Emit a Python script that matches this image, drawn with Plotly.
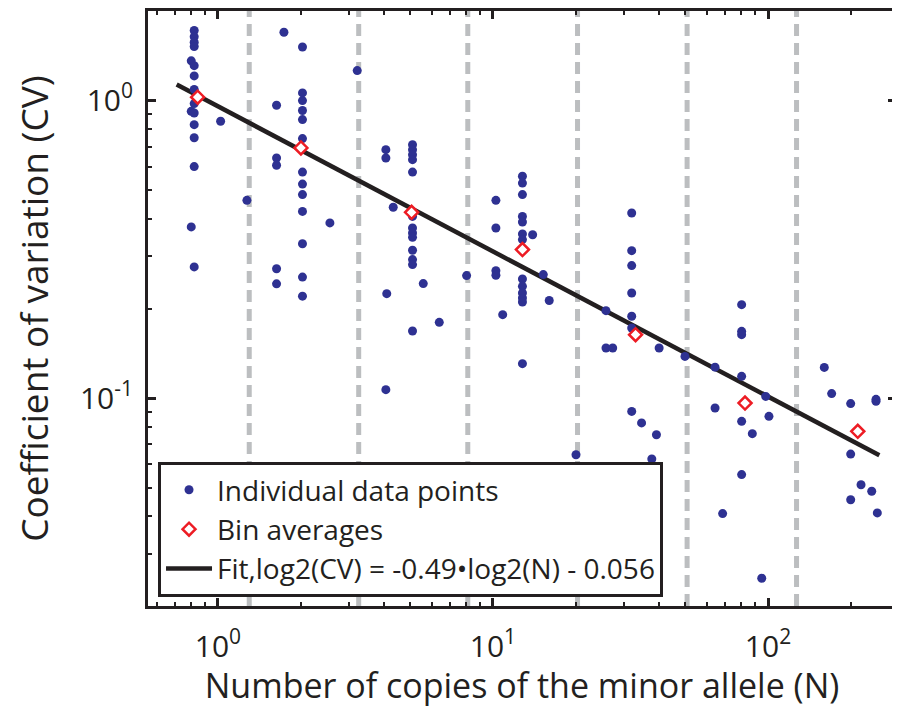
import math
import plotly.graph_objects as go

# ---------------- data ----------------
# individual data points (N, CV)
pts_N = [
    0.82, 0.82, 0.82, 0.82, 0.80, 0.82, 0.82, 0.82, 0.82, 0.80, 0.82, 0.82, 0.82, 0.82, 0.80, 0.82,
    1.023, 1.275,
    2.03, 2.03, 2.03, 2.03, 2.03, 2.03, 2.03, 2.03, 2.03, 2.03, 2.03, 2.03, 2.03,
    1.738, 1.634, 1.634, 1.634, 1.634, 1.634, 2.554, 3.21,
    5.1, 5.1, 5.1, 5.1, 5.1, 5.1, 5.1, 5.1, 5.1, 5.1, 5.1, 5.1, 5.1,
    4.08, 4.08, 4.34, 5.58, 4.11, 6.38, 4.08, 8.02, 10.25, 10.25, 10.25, 10.25, 10.85,
    12.8, 12.8, 12.8, 12.8, 12.8, 12.8, 12.8, 12.8, 12.8, 12.8, 12.8, 12.8, 12.8,
    13.94, 15.24, 16.02, 20.04, 25.76, 25.76, 27.25, 25.76,
    31.95, 31.95, 31.95, 31.95, 31.95, 31.95, 31.95,
    34.7, 39.3, 37.8, 40.2, 49.9, 64.2, 64.2, 68.4,
    80.2, 80.2, 80.2, 80.2, 80.2, 80.2,
    87.7, 98.1, 100.8, 94.9,
    160.2, 170.4, 199.8, 247.0, 247.0, 199.8, 217.9, 238.3, 199.8, 249.7,
]
pts_CV = [
    1.72, 1.64, 1.57, 1.52, 1.36, 1.31, 1.21, 1.09, 0.977, 0.92, 0.908, 0.83, 0.75, 0.60, 0.376, 0.276,
    0.852, 0.462,
    1.514, 1.061, 1.000, 0.926, 0.863, 0.745, 0.575, 0.524, 0.483, 0.424, 0.330, 0.255, 0.220,
    1.697, 0.964, 0.641, 0.606, 0.272, 0.242, 0.388, 1.261,
    0.711, 0.684, 0.658, 0.633, 0.575, 0.408, 0.373, 0.359, 0.347, 0.314, 0.292, 0.281, 0.168,
    0.684, 0.641, 0.438, 0.2425, 0.2244, 0.1797, 0.1067, 0.258, 0.462, 0.373, 0.268, 0.2586, 0.1907,
    0.5565, 0.528, 0.483, 0.408, 0.3906, 0.356, 0.341, 0.2513, 0.2374, 0.2255, 0.217, 0.2103, 0.1305,
    0.354, 0.26, 0.2127, 0.0645, 0.1967, 0.1473, 0.1473, 0.0579,
    0.419, 0.313, 0.2788, 0.2255, 0.1883, 0.172, 0.0902,
    0.0825, 0.0753, 0.0624, 0.1473, 0.138, 0.127, 0.0926, 0.0409,
    0.206, 0.1676, 0.1633, 0.1183, 0.0835, 0.0553,
    0.0759, 0.1013, 0.0868, 0.0248,
    0.1268, 0.1035, 0.0958, 0.0975, 0.0990, 0.0648, 0.0511, 0.0486, 0.0455, 0.0411,
]

# bin averages
bin_N = [0.844, 2.004, 5.06, 12.8, 33.0, 82.5, 212.0]
bin_CV = [1.026, 0.693, 0.421, 0.3155, 0.1633, 0.0962, 0.0773]

# fit line end points: log2(CV) = -0.49*log2(N) - 0.056
fit_N = [0.708, 254.0]
fit_CV = [1.132, 0.0642]

# bin edges (vertical dashed lines)
bin_edges = [1.3, 3.25, 8.1, 20.3, 50.8, 127.0]

# axis ranges and ticks
x_range = [0.557, 292.0]
y_range = [0.02, 2.0]
x_tickvals = [1, 10, 100]
x_ticktext = ["10<sup>0</sup>", "10<sup>1</sup>", "10<sup>2</sup>"]
y_tickvals = [0.1, 1]
y_ticktext = ["10<sup>-1</sup>", "10<sup>0</sup>"]
x_minor = [0.6, 0.7, 0.8, 0.9, 2, 3, 4, 5, 6, 7, 8, 9, 20, 30, 40, 50, 60, 70, 80, 90, 200]
y_minor = [0.03, 0.04, 0.05, 0.06, 0.07, 0.08, 0.09, 0.2, 0.3, 0.4, 0.5, 0.6, 0.7, 0.8, 0.9, 2]

# ---------------- styles ----------------
BLUE = "#2E3192"
RED = "#ED1C24"
GRAY = "#BCBEC0"
INK = "#231F20"
FONT = "Open Sans"

fig = go.Figure()

# dashed bin-edge lines
vx, vy = [], []
for e in bin_edges:
    vx += [e, e, None]
    vy += [y_range[0], y_range[1], None]
fig.add_trace(go.Scatter(x=vx, y=vy, mode="lines", showlegend=False, hoverinfo="skip",
                         line=dict(color=GRAY, width=5, dash="12px,7px")))

fig.add_trace(go.Scatter(x=fit_N, y=fit_CV, mode="lines", name="Fit,log2(CV) = -0.49•log2(N) - 0.056",
                         line=dict(color=INK, width=4.5), legendrank=3))
fig.add_trace(go.Scatter(x=pts_N, y=pts_CV, mode="markers", name="Individual data points",
                         marker=dict(color=BLUE, size=9, line=dict(width=0)), legendrank=1))
fig.add_trace(go.Scatter(x=bin_N, y=bin_CV, mode="markers", name="Bin averages",
                         marker=dict(symbol="diamond", color="white", size=10,
                                     line=dict(color=RED, width=2.5)), legendrank=2))

axis_common = dict(
    type="log", showline=True, linewidth=3, linecolor=INK, mirror="allticks",
    ticks="inside", ticklen=8, tickwidth=2.5, tickcolor=INK,
    showgrid=False, zeroline=False, tickmode="array", automargin=False,
    tickfont=dict(family=FONT, size=30, color=INK),
)

NBSP = "\u00a0"

# the page body adds an 8px offset, so the figure is 892x700
fig.update_layout(
    width=892, height=700,
    margin=dict(l=140, r=4, t=3, b=102, pad=0),
    plot_bgcolor="white", paper_bgcolor="white",
    font=dict(family=FONT, color=INK),
    xaxis=dict(axis_common, range=[math.log10(x_range[0]), math.log10(x_range[1])],
               tickvals=x_tickvals, ticktext=x_ticktext, ticklabelstandoff=12,
               minor=dict(ticks="inside", ticklen=4, tickwidth=2, tickcolor=INK,
                          tickmode="array", tickvals=x_minor, showgrid=False),
               title=dict(text="Number of copies of the minor allele (N)",
                          font=dict(family=FONT, size=34, color=INK), standoff=10)),
    yaxis=dict(axis_common, range=[math.log10(y_range[0]), math.log10(y_range[1])],
               tickvals=y_tickvals, ticktext=y_ticktext, ticklabelstandoff=6,
               minor=dict(ticks="inside", ticklen=4, tickwidth=2, tickcolor=INK,
                          tickmode="array", tickvals=y_minor, showgrid=False),
               title=dict(text="Coefficient of variation (CV)" + NBSP * 6,
                          font=dict(family=FONT, size=37, color=INK), standoff=28)),
    legend=dict(x=0.0134, y=0.015, xanchor="left", yanchor="bottom",
                bgcolor="white", bordercolor=INK, borderwidth=3, itemwidth=46,
                font=dict(family=FONT, size=28, color=INK), tracegroupgap=0),
    showlegend=True,
)

fig.write_html("out.html")
